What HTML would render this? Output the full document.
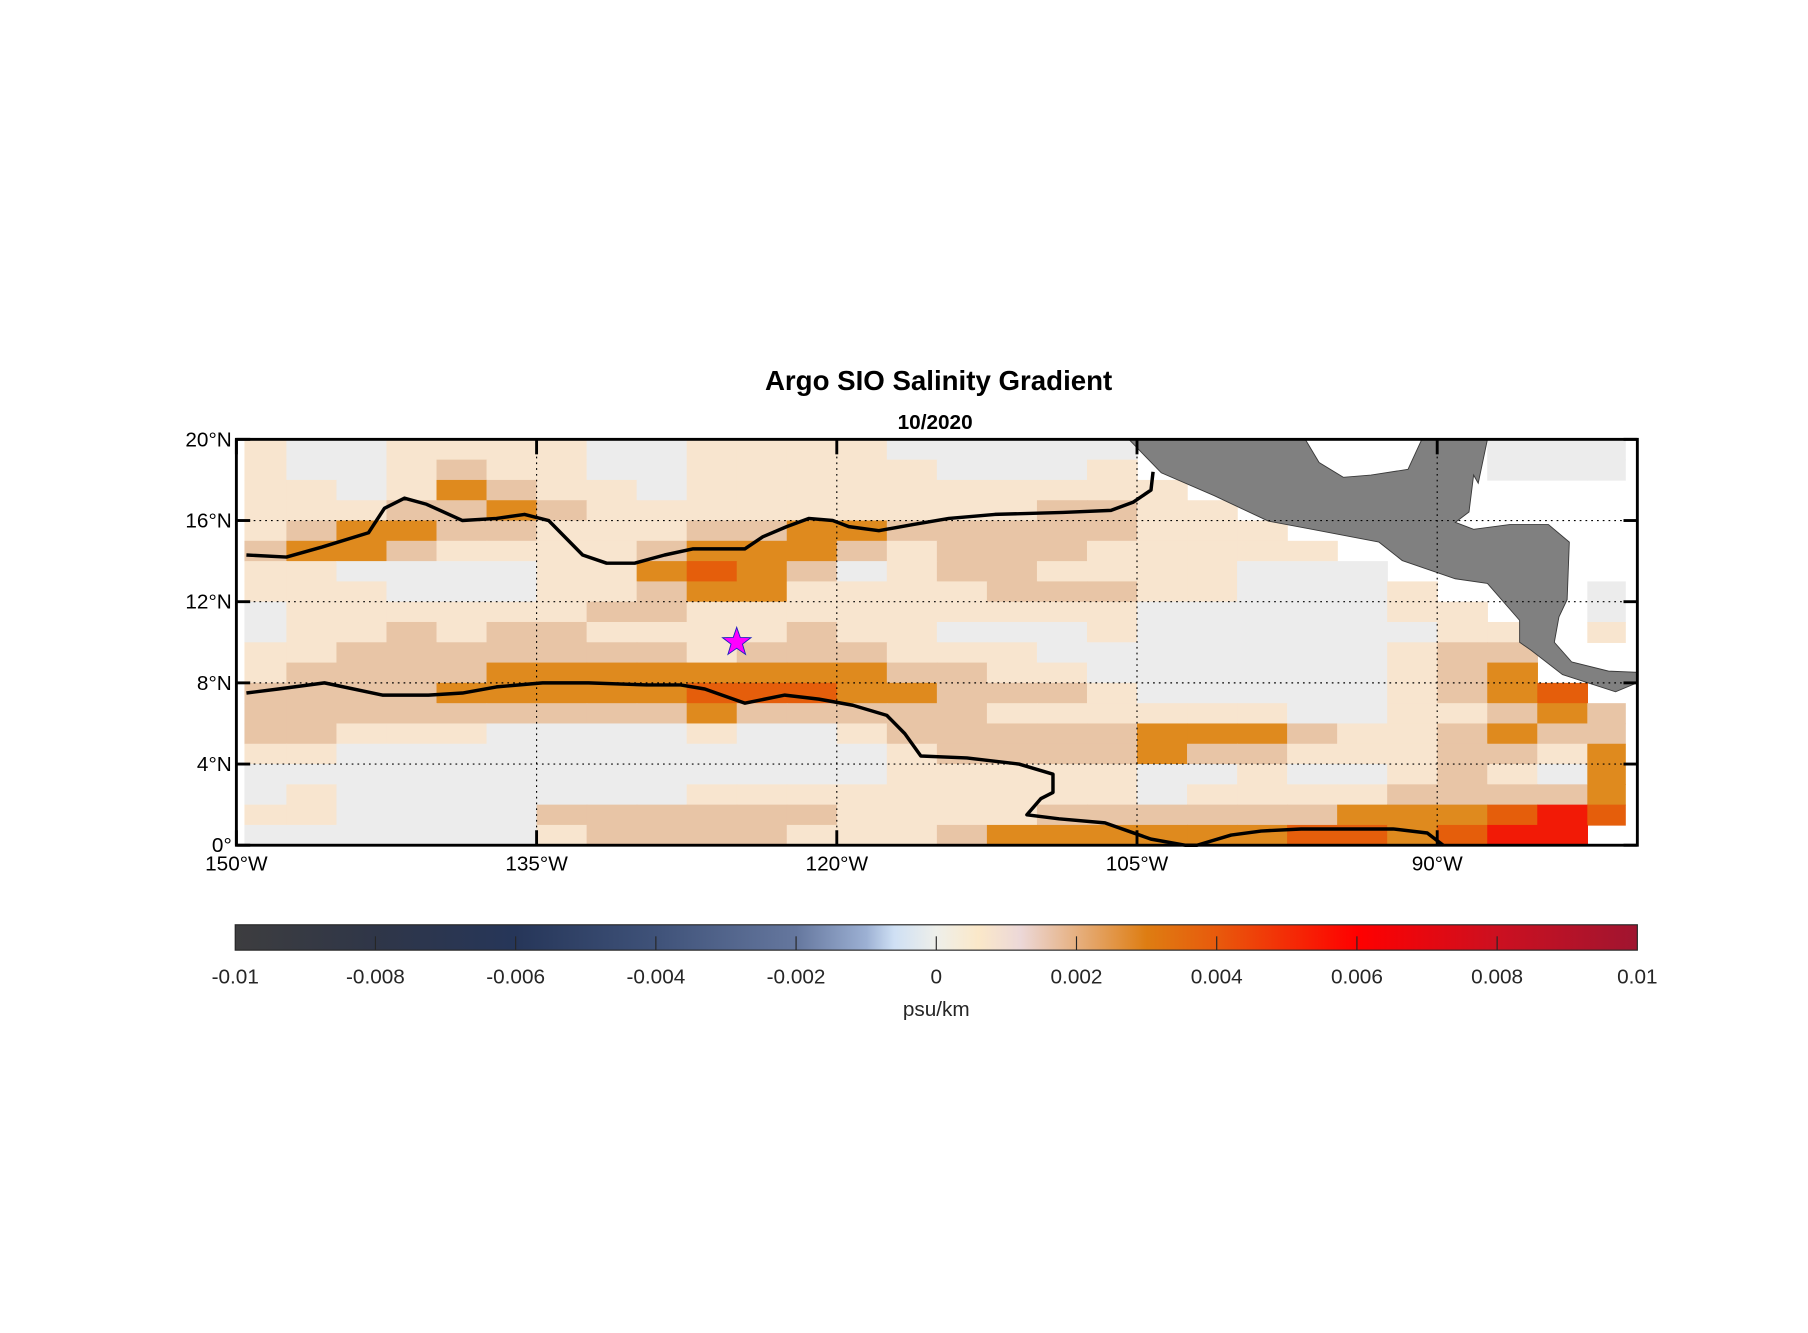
<!DOCTYPE html>
<html><head><meta charset="utf-8"><style>
html,body{margin:0;padding:0;background:#fff;}
svg{display:block;font-family:"Liberation Sans",Arial,sans-serif;}
</style></head><body>
<svg id="fig" width="1808" height="1333" viewBox="0 0 1568 1156" xmlns="http://www.w3.org/2000/svg">
<defs>
<linearGradient id="cbgrad" x1="0" x2="1" y1="0" y2="0">
<stop offset="0" stop-color="#3d3d3f"/>
<stop offset="0.1" stop-color="#2f3648"/>
<stop offset="0.2" stop-color="#263659"/>
<stop offset="0.3" stop-color="#3f5279"/>
<stop offset="0.4" stop-color="#65779e"/>
<stop offset="0.45" stop-color="#9cb0d3"/>
<stop offset="0.47" stop-color="#cfe0f4"/>
<stop offset="0.5" stop-color="#eeefea"/>
<stop offset="0.53" stop-color="#fbe8c9"/>
<stop offset="0.56" stop-color="#ecd8d8"/>
<stop offset="0.6" stop-color="#e6b080"/>
<stop offset="0.65" stop-color="#de7d12"/>
<stop offset="0.7" stop-color="#e85a0c"/>
<stop offset="0.8" stop-color="#ff0000"/>
<stop offset="0.9" stop-color="#cc1020"/>
<stop offset="1" stop-color="#a01530"/>
</linearGradient>
<clipPath id="plotclip"><rect x="212" y="381" width="1198" height="352"/></clipPath>
</defs>
<text x="814" y="338" text-anchor="middle" font-size="24" font-weight="bold">Argo SIO Salinity Gradient</text>
<text x="811" y="372" text-anchor="middle" font-size="18" font-weight="bold">10/2020</text>
<g id="field" clip-path="url(#plotclip)"></g>
<g id="land"></g>
<g id="grid"></g>
<g id="contours"></g>
<g id="axes"></g>
<g id="cbar"></g>
</svg>
<script>
// Grid: rows from lat 19.5 (top) to 0.5 (bottom), cols lon -148.75 .. -81.25 step 2.5. Values in 0.001 psu/km; null = no data
const lonCenters = [];
for (let i = 0; i < 28; i++) lonCenters.push(-148.75 + 2.5 * i);
const latCenters = [19.5,18.5,17.5,16.5,15.5,14.5,13.5,12.5,11.5,10.5,9.5,8.5,7.5,6.5,5.5,4.5,3.5,2.5,1.5,0.5];
const N = null;
const gradRows = [
[1.5,0.5,0.5,1.5,1.5,1.5,1.5,0.5,0.5,1.5,1.5,1.5,1.5,0.5,0.5,0.5,0.5,0.5,N,N,N,N,N,N,N,0.5,0.5,0.5],
[1.5,0.5,0.5,1.5,2.5,1.5,1.5,0.5,0.5,1.5,1.5,1.5,1.5,1.5,0.5,0.5,0.5,1.5,N,N,N,N,N,N,N,0.5,0.5,0.5],
[1.5,1.5,0.5,1.5,3.5,2.5,1.5,1.5,0.5,1.5,1.5,1.5,1.5,1.5,1.5,1.5,1.5,1.5,1.5,N,N,N,N,N,N,N,N,N],
[1.5,1.5,1.5,2.5,2.5,3.5,2.5,1.5,1.5,1.5,1.5,1.5,1.5,1.5,1.5,1.5,2.5,2.5,1.5,1.5,N,N,N,N,N,N,N,N],
[1.5,2.5,3.5,3.5,2.5,2.5,1.5,1.5,1.5,2.5,2.5,3.5,3.5,2.5,2.5,2.5,2.5,2.5,1.5,1.5,1.5,N,N,N,N,N,N,N],
[2.5,3.5,3.5,2.5,1.5,1.5,1.5,1.5,2.5,3.5,3.5,3.5,2.5,1.5,2.5,2.5,2.5,1.5,1.5,1.5,1.5,1.5,N,N,N,N,N,N],
[1.5,1.5,0.5,0.5,0.5,0.5,1.5,1.5,3.5,4.5,3.5,2.5,0.5,1.5,2.5,2.5,1.5,1.5,1.5,1.5,0.5,0.5,0.5,N,N,N,N,N],
[1.5,1.5,1.5,0.5,0.5,0.5,1.5,1.5,2.5,3.5,3.5,1.5,1.5,1.5,1.5,2.5,2.5,2.5,1.5,1.5,0.5,0.5,0.5,1.5,N,N,N,0.5],
[0.5,1.5,1.5,1.5,1.5,1.5,1.5,2.5,2.5,1.5,1.5,1.5,1.5,1.5,1.5,1.5,1.5,1.5,0.5,0.5,0.5,0.5,0.5,1.5,1.5,N,N,0.5],
[0.5,1.5,1.5,2.5,1.5,2.5,2.5,1.5,1.5,1.5,1.5,2.5,1.5,1.5,0.5,0.5,0.5,1.5,0.5,0.5,0.5,0.5,0.5,0.5,1.5,1.5,N,1.5],
[1.5,1.5,2.5,2.5,2.5,2.5,2.5,2.5,2.5,1.5,2.5,2.5,2.5,1.5,1.5,1.5,0.5,0.5,0.5,0.5,0.5,0.5,0.5,1.5,2.5,2.5,N,N],
[1.5,2.5,2.5,2.5,2.5,3.5,3.5,3.5,3.5,3.5,3.5,3.5,3.5,2.5,2.5,1.5,1.5,0.5,0.5,0.5,0.5,0.5,0.5,1.5,2.5,3.5,N,N],
[2.5,2.5,2.5,2.5,3.5,3.5,3.5,3.5,3.5,4.5,4.5,4.5,3.5,3.5,2.5,2.5,2.5,1.5,0.5,0.5,0.5,0.5,0.5,1.5,2.5,3.5,4.5,N],
[2.5,2.5,2.5,2.5,2.5,2.5,2.5,2.5,2.5,3.5,2.5,2.5,2.5,2.5,2.5,1.5,1.5,1.5,1.5,1.5,1.5,0.5,0.5,1.5,1.5,2.5,3.5,2.5],
[2.5,2.5,1.5,1.5,1.5,0.5,0.5,0.5,0.5,1.5,0.5,0.5,1.5,2.5,2.5,2.5,2.5,2.5,3.5,3.5,3.5,2.5,1.5,1.5,2.5,3.5,2.5,2.5],
[1.5,1.5,0.5,0.5,0.5,0.5,0.5,0.5,0.5,0.5,0.5,0.5,0.5,1.5,2.5,2.5,2.5,2.5,3.5,2.5,2.5,1.5,1.5,1.5,2.5,2.5,1.5,3.5],
[0.5,0.5,0.5,0.5,0.5,0.5,0.5,0.5,0.5,0.5,0.5,0.5,0.5,1.5,1.5,1.5,1.5,1.5,0.5,0.5,1.5,0.5,0.5,1.5,2.5,1.5,0.5,3.5],
[0.5,1.5,0.5,0.5,0.5,0.5,0.5,0.5,0.5,1.5,1.5,1.5,1.5,1.5,1.5,1.5,1.5,1.5,0.5,1.5,1.5,1.5,1.5,2.5,2.5,2.5,2.5,3.5],
[1.5,1.5,0.5,0.5,0.5,0.5,2.5,2.5,2.5,2.5,2.5,2.5,1.5,1.5,1.5,1.5,2.5,2.5,2.5,2.5,2.5,2.5,3.5,3.5,3.5,4.5,5.5,4.5],
[0.5,0.5,0.5,0.5,0.5,0.5,1.5,2.5,2.5,2.5,2.5,1.5,1.5,1.5,2.5,3.5,3.5,3.5,3.5,3.5,3.5,4.5,4.5,3.5,4.5,5.5,5.5,N]
];
// Contour lines (lon, lat)
const c1Lon = [-149.5,-147.5,-145.7,-143.4,-142.6,-141.6,-140.5,-138.7,-137,-135.6,-134.4,-133.5,-132.7,-131.5,-130.1,-128.6,-127.2,-125.7,-124.6,-123.7,-122.5,-121.4,-120.2,-119.4,-117.9,-116.2,-114.4,-112.1,-108.7,-106.3,-105.2,-104.3,-104.2];
const c1Lat = [14.3,14.2,14.7,15.4,16.6,17.1,16.8,16.0,16.1,16.3,16.0,15.1,14.3,13.9,13.9,14.3,14.6,14.6,14.6,15.2,15.7,16.1,16.0,15.7,15.5,15.8,16.1,16.3,16.4,16.5,16.9,17.5,18.4];
const c2Lon = [-149.5,-147.9,-145.6,-142.7,-140.4,-138.7,-137,-134.7,-132.4,-129.5,-127.8,-126.6,-124.6,-122.6,-120.9,-119.2,-117.5,-116.6,-115.8,-113.5,-110.9,-109.2,-109.2,-109.8,-110.5,-108.9,-106.6,-104.3,-102.6,-102,-100.3,-98.8,-96.8,-95.1,-92.2,-90.5,-89.7];
const c2Lat = [7.5,7.7,8.0,7.4,7.4,7.5,7.8,8.0,8.0,7.9,7.9,7.7,7.0,7.4,7.2,6.9,6.4,5.5,4.4,4.3,4.0,3.5,2.6,2.3,1.5,1.3,1.1,0.3,0,0.0,0.5,0.7,0.8,0.8,0.8,0.6,0];
const starLon = [-125];
const starLat = [10];
// land outline (lon, lat)
const landLon = [-105.41,-103.79,-101.14,-98.44,-96.25,-92.91,-91.75,-89.10,-87.49,-85.88,-85.88,-85.30,-83.74,-81.09,-80.0,-80.0,-81.44,-83.28,-84.15,-83.92,-83.51,-83.40,-84.44,-86.39,-88.18,-89.10,-88.41,-88.18,-87.95,-87.49,-90.77,-91.46,-93.31,-94.69,-95.90,-96.59];
const landLat = [20,18.35,17.22,15.97,15.57,14.94,14.03,13.13,12.90,11.08,10.0,9.60,8.41,7.56,8.01,8.52,8.58,9.03,10.0,11.25,12.10,14.94,15.80,15.80,15.57,15.91,16.42,18.24,17.84,20,20,18.52,18.24,18.13,18.86,20];

const NS = 'http://www.w3.org/2000/svg';
const X0 = 205, X1 = 1420, Y0 = 733, Y1 = 381;
function xs(lon){ return X0 + (lon + 150) / 70 * (X1 - X0); }
function ys(lat){ return Y0 - lat / 20 * (Y0 - Y1); }
function mk(tag, attrs, parent){ const e = document.createElementNS(NS, tag); for (const k in attrs) e.setAttribute(k, attrs[k]); parent.appendChild(e); return e; }
function colorFor(v){
  if (v < 1) return '#ececec';
  if (v < 2) return '#f8e5cf';
  if (v < 3) return '#e8c5a6';
  if (v < 4) return '#df8a1e';
  if (v < 5) return '#e55e0b';
  return '#f21a06';
}
const field = document.getElementById('field');
const cw = xs(-147.5) - xs(-150), ch = ys(0) - ys(1);
gradRows.forEach((row, r) => {
  row.forEach((v, c) => {
    if (v === null) return;
    const el = mk('rect', {x: (xs(lonCenters[c]) - cw/2).toFixed(2), y: (ys(latCenters[r]) - ch/2).toFixed(2), width: (cw+0.6).toFixed(2), height: (ch+0.6).toFixed(2), fill: colorFor(v)}, field);
    
    
  });
});
const land = document.getElementById('land');
const lp = mk('polygon', {points: landLon.map((l,i)=>xs(l).toFixed(1)+','+ys(landLat[i]).toFixed(1)).join(' '), fill:'#808080', stroke:'#3a3a3a', 'stroke-width':0.8}, land);



const grid = document.getElementById('grid');
const lonTicks = [-150,-135,-120,-105,-90];
const lonLabels = ['150°W','135°W','120°W','105°W','90°W'];
const latTicks = [0,4,8,12,16,20];
const latLabels = ['0°','4°N','8°N','12°N','16°N','20°N'];
lonTicks.forEach(t => { if (t>-150) { const g = mk('line',{x1:xs(t),x2:xs(t),y1:Y1,y2:Y0,stroke:'#000','stroke-width':1,'stroke-dasharray':'1.5 3.5'},grid);
    }});
latTicks.forEach(t => { if (t>0 && t<20) { const g = mk('line',{x1:X0,x2:X1,y1:ys(t),y2:ys(t),stroke:'#000','stroke-width':1,'stroke-dasharray':'1.5 3.5'},grid);
    }});

const cont = document.getElementById('contours');
[[c1Lon,c1Lat,'contour-line-north'],[c2Lon,c2Lat,'contour-line-south']].forEach(([lo,la,nm]) => {
  const p = mk('polyline',{points: lo.map((l,i)=>xs(l).toFixed(1)+','+ys(la[i]).toFixed(1)).join(' '), fill:'none', stroke:'#000','stroke-width':3,'stroke-linejoin':'round'}, cont);
  
  
});
starLon.forEach((l,i) => {
  const cx = xs(l), cy = ys(starLat[i]), R = 13, r = 5.2; let pts = [];
  for (let k=0;k<10;k++){ const a = -Math.PI/2 + k*Math.PI/5; const rr = k%2?r:R; pts.push((cx+rr*Math.cos(a)).toFixed(1)+','+(cy+rr*Math.sin(a)).toFixed(1)); }
  const s = mk('polygon',{points:pts.join(' '),fill:'#ff00ff',stroke:'#2020c0','stroke-width':0.8},cont);
  
  
});

const axes = document.getElementById('axes');
const box = mk('rect',{x:X0,y:Y1,width:X1-X0,height:Y0-Y1,fill:'none',stroke:'#000','stroke-width':2.5},axes);
 
lonTicks.forEach((t,i) => {
  const x = xs(t);
  mk('line',{x1:x,x2:x,y1:Y0,y2:Y0-13,stroke:'#000','stroke-width':2.5},axes);
  mk('line',{x1:x,x2:x,y1:Y1,y2:Y1+13,stroke:'#000','stroke-width':2.5},axes);
  const tx = mk('text',{x:x,y:Y0+22,'text-anchor':'middle','font-size':18},axes);
  tx.textContent = lonLabels[i];
   
});
latTicks.forEach((t,i) => {
  const y = ys(t);
  mk('line',{x1:X0,x2:X0+12,y1:y,y2:y,stroke:'#000','stroke-width':2.5},axes);
  mk('line',{x1:X1,x2:X1-12,y1:y,y2:y,stroke:'#000','stroke-width':2.5},axes);
  const tx = mk('text',{x:X0-4,y:y+6,'text-anchor':'end','font-size':18},axes);
  tx.textContent = latLabels[i];
   
});

const cb = document.getElementById('cbar');
const CB0 = 204, CB1 = 1420;
const cbTicks = [-0.01,-0.008,-0.006,-0.004,-0.002,0,0.002,0.004,0.006,0.008,0.01];
const cbLabels = ['-0.01','-0.008','-0.006','-0.004','-0.002','0','0.002','0.004','0.006','0.008','0.01'];
const cbr = mk('rect',{x:CB0,y:802,width:CB1-CB0,height:22,fill:'url(#cbgrad)',stroke:'#262626','stroke-width':1},cb);
 
cbTicks.forEach((t,i) => {
  const x = CB0 + (t + 0.01) / 0.02 * (CB1 - CB0);
  if (i>0 && i<cbTicks.length-1) mk('line',{x1:x,x2:x,y1:812,y2:824,stroke:'#262626','stroke-width':1},cb);
  const tx = mk('text',{x:x,y:853,'text-anchor':'middle','font-size':18,fill:'#262626'},cb);
  tx.textContent = cbLabels[i];
   
});
const ul = mk('text',{x:812,y:881,'text-anchor':'middle','font-size':18,fill:'#262626'},cb);
ul.textContent = 'psu/km';
 
</script>
</body></html>
